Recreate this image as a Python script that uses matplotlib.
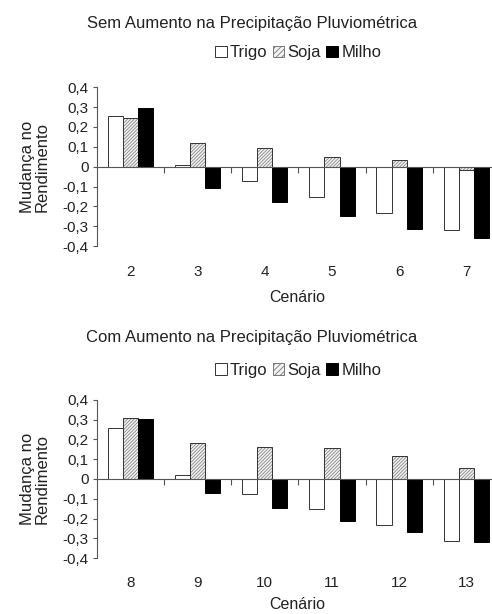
import matplotlib
matplotlib.use("Agg")
import matplotlib.pyplot as plt
from matplotlib.patches import Patch
from matplotlib.transforms import blended_transform_factory
import numpy as np

plt.rcParams['font.family'] = ['Liberation Sans', 'DejaVu Sans']
plt.rcParams['hatch.linewidth'] = 0.6

series = ["Trigo", "Soja", "Milho"]

cen_top = ["2", "3", "4", "5", "6", "7"]
trigo_top = [0.257, 0.008, -0.074, -0.153, -0.234, -0.316]
soja_top = [0.244, 0.119, 0.096, 0.050, 0.032, -0.015]
milho_top = [0.296, -0.106, -0.176, -0.249, -0.313, -0.360]

cen_bot = ["8", "9", "10", "11", "12", "13"]
trigo_bot = [0.257, 0.022, -0.074, -0.153, -0.234, -0.314]
soja_bot = [0.308, 0.180, 0.163, 0.156, 0.114, 0.057]
milho_bot = [0.303, -0.069, -0.145, -0.215, -0.267, -0.319]

yticks = [0.4, 0.3, 0.2, 0.1, 0, -0.1, -0.2, -0.3, -0.4]
ytick_labels = ["0,4", "0,3", "0,2", "0,1", "0", "-0,1", "-0,2", "-0,3", "-0,4"]

titles = ["Sem Aumento na Precipitação Pluviométrica",
          "Com Aumento na Precipitação Pluviométrica"]

fig = plt.figure(figsize=(4.92, 6.14), dpi=100)
FS = 11
FT = 12
TC = '#222222'

def panel(rect, cats, tr, so, mi):
    ax = fig.add_axes(rect)
    x = np.arange(len(cats))
    w = 0.225
    ax.bar(x - w, tr, w, facecolor='white', edgecolor='#333333', linewidth=0.7)
    ax.bar(x, so, w, facecolor='#f2f2f2', edgecolor='#888888', linewidth=0, hatch='//////////')
    ax.bar(x, so, w, facecolor='none', edgecolor='#333333', linewidth=0.7)
    ax.bar(x + w, mi, w, facecolor='black', edgecolor='black', linewidth=0.7)
    ax.set_xlim(-0.5, len(cats) - 0.5)
    ax.set_ylim(-0.4, 0.4)
    for s in ['top', 'right']:
        ax.spines[s].set_visible(False)
    ax.spines['bottom'].set_position(('data', 0))
    ax.spines['left'].set_color('#555555')
    ax.spines['bottom'].set_color('#555555')
    ax.spines['left'].set_linewidth(0.8)
    ax.spines['bottom'].set_linewidth(0.8)
    ax.set_yticks(yticks)
    ax.set_yticklabels(ytick_labels, fontsize=FS, color=TC)
    ax.tick_params(axis='y', length=3, width=0.8, color='#555555', pad=3)
    ax.set_xticks(np.arange(len(cats) - 1) + 0.5)
    ax.set_xticklabels([])
    ax.tick_params(axis='x', length=4, width=0.8, color='#555555', direction='out')
    tr_ = blended_transform_factory(ax.transData, ax.transAxes)
    for xi, c in zip(x, cats):
        ax.text(xi, -0.16, c, transform=tr_, ha='center', va='center', fontsize=FS, color=TC)
    ax.set_ylabel("Mudança no\nRendimento", fontsize=FT, labelpad=9, linespacing=1.0, color=TC)
    return ax

ax1 = panel([0.197, 0.599, 0.819, 0.259], cen_top, trigo_top, soja_top, milho_top)
ax2 = panel([0.197, 0.091, 0.819, 0.258], cen_bot, trigo_bot, soja_bot, milho_bot)

handles = [Patch(facecolor='white', edgecolor='#333333', linewidth=0.7),
           Patch(facecolor='#f2f2f2', edgecolor='#777777', hatch='//////', linewidth=0.7),
           Patch(facecolor='black', edgecolor='black', linewidth=0.7)]

for ty, ly, cy, t in [(0.961, 0.914, 0.515, titles[0]), (0.451, 0.397, 0.015, titles[1])]:
    fig.text(0.512, ty, t, ha='center', va='center', fontsize=FT, color=TC)
    leg = fig.legend(handles, series, loc='center', bbox_to_anchor=(0.606, ly), ncol=3,
                     frameon=False, fontsize=FT, handlelength=0.7, handleheight=0.7,
                     handletextpad=0.2, columnspacing=0.3, borderaxespad=0, borderpad=0)
    for txt in leg.get_texts():
        txt.set_color(TC)
    fig.text(0.604, cy, "Cenário", ha='center', va='center', fontsize=11.5, color=TC)

fig.savefig("out.png", dpi=100)
